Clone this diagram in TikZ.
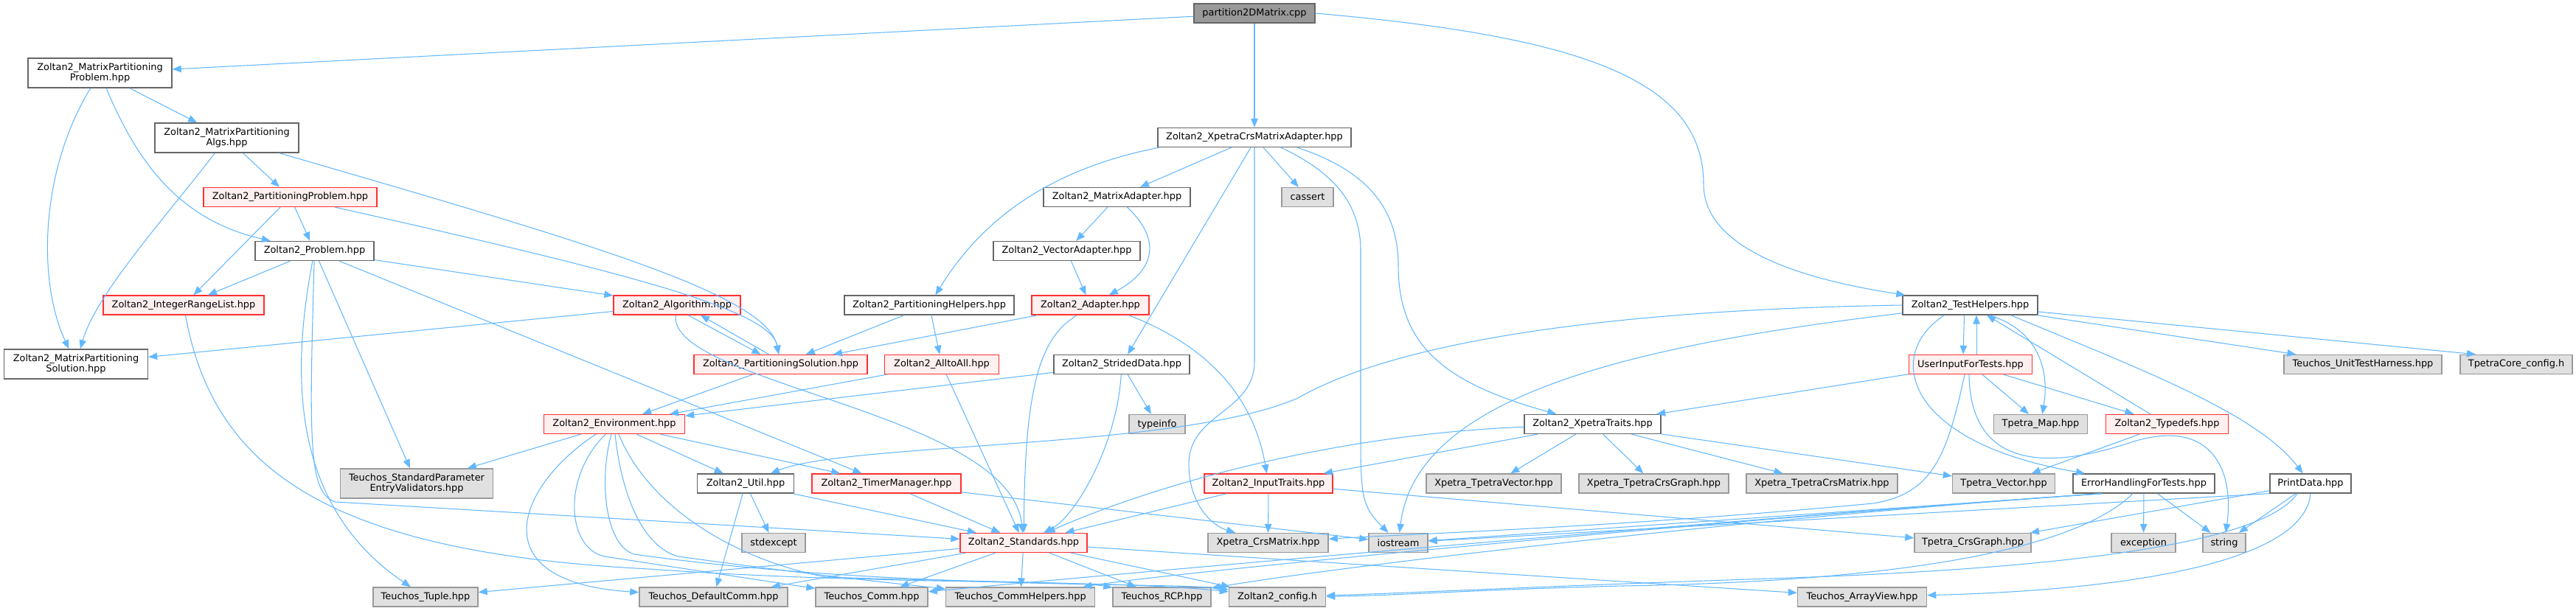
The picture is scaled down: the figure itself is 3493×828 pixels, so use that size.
\documentclass[tikz,border=0pt]{standalone}
\usepackage{fontspec}
\setmainfont{DejaVu Sans}
\usetikzlibrary{arrows.meta}
\definecolor{edgeblue}{HTML}{63B8FF}
\definecolor{wbd}{HTML}{666666}
\definecolor{gfill}{HTML}{E0E0E0}
\definecolor{gbd}{HTML}{999999}
\definecolor{rfill}{HTML}{FFF0F0}
\definecolor{rbd}{HTML}{FF3030}
\definecolor{rootfill}{HTML}{999999}
\definecolor{rootbd}{HTML}{666666}
\tikzset{
  edge/.style={draw=edgeblue, line width=1.05pt, -{Triangle[length=12pt,width=9.5pt]}},
  box/.style={rectangle, inner sep=0pt, minimum height=26pt, align=center,
              line width=1.4pt, font=\fontsize{12.9pt}{14.5pt}\selectfont},
  wbox/.style={box, draw=wbd, fill=white},
  gbox/.style={box, draw=gbd, fill=gfill},
  rbox/.style={box, draw=rbd, fill=rfill},
  rootbox/.style={box, draw=rootbd, fill=rootfill},
}
\begin{document}
\begin{tikzpicture}[x=1pt,y=-1pt]
\useasboundingbox[fill=white] (0,0) rectangle (3493,828);

% ---------- nodes ----------
\node[rootbox, minimum width=164pt] (cpp) at (1701,18) {partition2DMatrix.cpp};
\node[wbox, minimum width=195pt, minimum height=40pt] (mpp) at (135.5,99) {Zoltan2\_MatrixPartitioning\\Problem.hpp};
\node[wbox, minimum width=195pt, minimum height=40pt] (mpa) at (307.5,187) {Zoltan2\_MatrixPartitioning\\Algs.hpp};
\node[wbox, minimum width=262pt] (xcma) at (1701,186.5) {Zoltan2\_XpetraCrsMatrixAdapter.hpp};
\node[rbox, minimum width=235pt] (pprob) at (393.5,267.5) {Zoltan2\_PartitioningProblem.hpp};
\node[wbox, minimum width=199pt] (madp) at (1514.5,267.5) {Zoltan2\_MatrixAdapter.hpp};
\node[gbox, minimum width=70pt] (cassert) at (1773,267.5) {cassert};
\node[wbox, minimum width=161pt] (prob) at (426.5,340.5) {Zoltan2\_Problem.hpp};
\node[wbox, minimum width=199pt] (vadp) at (1446.5,340.5) {Zoltan2\_VectorAdapter.hpp};
\node[rbox, minimum width=218pt] (irl) at (249,414) {Zoltan2\_IntegerRangeList.hpp};
\node[rbox, minimum width=172pt] (alg) at (918,414) {Zoltan2\_Algorithm.hpp};
\node[wbox, minimum width=230pt] (phelp) at (1260,414) {Zoltan2\_PartitioningHelpers.hpp};
\node[rbox, minimum width=159pt] (adp) at (1478.5,414) {Zoltan2\_Adapter.hpp};
\node[wbox, minimum width=183pt] (th) at (2671.5,414) {Zoltan2\_TestHelpers.hpp};
\node[wbox, minimum width=195pt, minimum height=40pt] (mps) at (103,494) {Zoltan2\_MatrixPartitioning\\Solution.hpp};
\node[rbox, minimum width=235pt] (psol) at (1058.5,494.5) {Zoltan2\_PartitioningSolution.hpp};
\node[rbox, minimum width=155pt] (a2a) at (1277,494.5) {Zoltan2\_AlltoAll.hpp};
\node[wbox, minimum width=184pt] (sd) at (1521,494.5) {Zoltan2\_StridedData.hpp};
\node[rbox, minimum width=167pt] (uift) at (2672,494.5) {UserInputForTests.hpp};
\node[gbox, minimum width=214pt] (uth) at (3204,494.5) {Teuchos\_UnitTestHarness.hpp};
\node[gbox, minimum width=152pt] (tcc) at (3412,494.5) {TpetraCore\_config.h};
\node[rbox, minimum width=191pt] (env) at (833,575.5) {Zoltan2\_Environment.hpp};
\node[gbox, minimum width=76pt] (typeinfo) at (1569,575.5) {typeinfo};
\node[wbox, minimum width=185pt] (xt) at (2159.5,575.5) {Zoltan2\_XpetraTraits.hpp};
\node[gbox, minimum width=127pt] (tmap) at (2767,575.5) {Tpetra\_Map.hpp};
\node[rbox, minimum width=166pt] (tdef) at (2938.5,575.5) {Zoltan2\_Typedefs.hpp};
\node[gbox, minimum width=207pt, minimum height=40pt] (spev) at (565,656) {Teuchos\_StandardParameter\\EntryValidators.hpp};
\node[wbox, minimum width=131pt] (util) at (1011,656) {Zoltan2\_Util.hpp};
\node[rbox, minimum width=202pt] (tm) at (1202,656) {Zoltan2\_TimerManager.hpp};
\node[rbox, minimum width=174pt] (it) at (1720,656) {Zoltan2\_InputTraits.hpp};
\node[gbox, minimum width=183pt] (xtv) at (2025.5,656) {Xpetra\_TpetraVector.hpp};
\node[gbox, minimum width=203pt] (xtg) at (2242.5,656) {Xpetra\_TpetraCrsGraph.hpp};
\node[gbox, minimum width=205pt] (xtm) at (2470.5,656) {Xpetra\_TpetraCrsMatrix.hpp};
\node[gbox, minimum width=139pt] (tvec) at (2717,656) {Tpetra\_Vector.hpp};
\node[wbox, minimum width=192pt] (eh) at (2907,656) {ErrorHandlingForTests.hpp};
\node[wbox, minimum width=110pt] (pd) at (3133,656) {PrintData.hpp};
\node[gbox, minimum width=86pt] (stdexcept) at (1049,736.5) {stdexcept};
\node[rbox, minimum width=172pt] (std) at (1388,736.5) {Zoltan2\_Standards.hpp};
\node[gbox, minimum width=163pt] (xcm) at (1719.5,736.5) {Xpetra\_CrsMatrix.hpp};
\node[gbox, minimum width=80pt] (ios) at (1896,736.5) {iostream};
\node[gbox, minimum width=158pt] (tcg) at (2675,736.5) {Tpetra\_CrsGraph.hpp};
\node[gbox, minimum width=87pt] (exc) at (2906.5,736.5) {exception};
\node[gbox, minimum width=58pt] (str) at (3016,736.5) {string};
\node[gbox, minimum width=142pt] (tuple) at (577,810) {Teuchos\_Tuple.hpp};
\node[gbox, minimum width=201pt] (dcomm) at (967.5,810) {Teuchos\_DefaultComm.hpp};
\node[gbox, minimum width=152pt] (comm) at (1182,810) {Teuchos\_Comm.hpp};
\node[gbox, minimum width=202pt] (ch) at (1383.6,810) {Teuchos\_CommHelpers.hpp};
\node[gbox, minimum width=133pt] (rcp) at (1575.5,810) {Teuchos\_RCP.hpp};
\node[gbox, minimum width=131pt] (cfg) at (1732,810) {Zoltan2\_config.h};
\node[gbox, minimum width=175pt] (av) at (2525,810) {Teuchos\_ArrayView.hpp};

% ---------- edges ----------
% root
\draw[edge] (cpp) -- (mpp);
\draw[edge] (cpp) -- (xcma);
\draw[edge] (cpp.east) .. controls (2150,50) and (2310,110) .. (2310,250) .. controls (2310,340) and (2450,380) .. ([xshift=4pt]th.north west);
% MatrixPartitioningProblem
\draw[edge] (mpp) -- (mpa);
\draw[edge] (mpp) .. controls (55,230) and (50,380) .. (mps);
\draw[edge] (mpp) .. controls (190,230) and (250,300) .. (prob);
% MatrixPartitioningAlgs
\draw[edge] (mpa) -- (pprob);
\draw[edge] (mpa) .. controls (220,300) and (130,400) .. (mps);
\draw[edge] (mpa) .. controls (800,330) and (1040,400) .. (psol);
% PartitioningProblem
\draw[edge] (pprob) -- (prob);
\draw[edge] (pprob) -- (irl);
\draw[edge] (pprob) .. controls (850,370) and (1045,420) .. (psol);
% Problem
\draw[edge] (prob) -- (irl);
\draw[edge] (prob) -- (alg);
\draw[edge] (prob) -- (spev);
\draw[edge] (prob) .. controls (392,520) and (400,690) .. (tuple);
\draw[edge] (prob) -- (tm);
\draw[edge] (prob) .. controls (419,600) and (418,670) .. (455,681) -- (std);
% IntegerRangeList
\draw[edge] (irl) .. controls (290,640) and (450,750) .. (880,772) .. controls (1200,795) and (1500,785) .. (cfg);
% Algorithm / PartitioningSolution
\draw[edge] (alg) -- (mps);
\draw[edge] ([xshift=15pt]alg.south) -- ([xshift=-27pt]psol.north);
\draw[edge] ([xshift=-16pt]psol.north) -- ([xshift=32pt]alg.south);
\draw[edge] (alg) .. controls (905,520) and (1370,560) .. (std);
\draw[edge] (psol) -- (env);
% XpetraCrsMatrixAdapter
\draw[edge] ([xshift=2pt]xcma.south west) .. controls (1420,230) and (1330,300) .. (phelp);
\draw[edge] (xcma) -- (madp);
\draw[edge] ([xshift=-5pt]xcma.south) -- (sd);
\draw[edge] (xcma.south) -- (1701,490) .. controls (1701,560) and (1612,560) .. (1612,630) .. controls (1612,680) and (1640,712) .. (xcm);
\draw[edge] (xcma) -- (cassert);
\draw[edge] ([xshift=36pt]xcma.south) .. controls (1800,230) and (1845,270) .. (1845,340) -- (1845,600) .. controls (1845,680) and (1850,690) .. (ios);
\draw[edge] ([xshift=58pt]xcma.south) .. controls (1850,230) and (1896,280) .. (1896,360) .. controls (1896,470) and (1960,520) .. (xt);
% adapters
\draw[edge] (madp) -- (vadp);
\draw[edge] ([xshift=14pt]madp.south) .. controls (1580,330) and (1560,370) .. (adp);
\draw[edge] (vadp) -- (adp);
\draw[edge] (phelp) -- (psol);
\draw[edge] (phelp) -- (a2a);
\draw[edge] (adp) -- (psol);
\draw[edge] ([xshift=-18pt]adp.south) .. controls (1405,460) and (1390,540) .. (std);
\draw[edge] ([xshift=52pt]adp.south) .. controls (1640,470) and (1700,540) .. (it);
% AlltoAll / StridedData
\draw[edge] (a2a) -- (env);
\draw[edge] (a2a) -- (std);
\draw[edge] (sd) -- (env);
\draw[edge] (sd) .. controls (1515,600) and (1460,700) .. (std);
\draw[edge] (sd) -- (typeinfo);
% Environment
\draw[edge] (env) -- (spev);
\draw[edge] ([xshift=-25pt]env.south) .. controls (700,660) and (650,790) .. (dcomm);
\draw[edge] ([xshift=-12pt]env.south) .. controls (760,650) and (770,745) .. (820,755) .. controls (950,775) and (1050,790) .. (comm);
\draw[edge] ([xshift=-4pt]env.south) .. controls (812,650) and (820,740) .. (860,752) .. controls (1200,800) and (1600,790) .. (cfg);
\draw[edge] ([xshift=1pt]env.south) .. controls (845,690) and (880,745) .. (920,755) .. controls (1100,780) and (1200,790) .. (ch);
\draw[edge] ([xshift=6pt]env.south) .. controls (880,690) and (1000,760) .. (1120,783) .. controls (1350,790) and (1470,790) .. (rcp);
\draw[edge] (env) -- (util);
\draw[edge] (env) -- (tm);
% Util / TimerManager / InputTraits
\draw[edge] (util) -- (stdexcept);
\draw[edge] (util) -- (dcomm);
\draw[edge] (util) -- (std);
\draw[edge] (tm) -- (std);
\draw[edge] (tm) -- (ios);
\draw[edge] (it) -- (std);
\draw[edge] (it) -- (xcm);
\draw[edge] (it) -- (tcg);
% XpetraTraits
\draw[edge] (xt) .. controls (1800,590) and (1560,660) .. (std);
\draw[edge] (xt) -- (it);
\draw[edge] (xt) -- (xtv);
\draw[edge] (xt) -- (xtg);
\draw[edge] (xt) -- (xtm);
\draw[edge] (xt) -- (tvec);
% Standards
\draw[edge] (std) -- (tuple);
\draw[edge] (std) -- (dcomm);
\draw[edge] (std) -- (comm);
\draw[edge] (std) -- (ch);
\draw[edge] (std) -- (rcp);
\draw[edge] (std) -- (cfg);
\draw[edge] (std) -- (av);
% TestHelpers
\draw[edge] (th.west) .. controls (2200,420) and (1900,460) .. (1760,540) .. controls (1600,610) and (1150,600) .. (util);
\draw[edge] (th) .. controls (2200,470) and (1920,540) .. (ios);
\draw[edge] ([xshift=-8pt]th.south) -- ([xshift=-10pt]uift.north);
\draw[edge] ([xshift=8pt]uift.north) -- ([xshift=8.5pt]th.south);
\draw[edge] ([xshift=26pt]th.south) .. controls (2770,450) and (2778,510) .. (tmap);
\draw[edge] ([xshift=-35pt]th.south) .. controls (2555,480) and (2580,600) .. (eh);
\draw[edge] ([xshift=55pt]th.south) .. controls (2900,500) and (3060,560) .. (pd);
\draw[edge] (th) -- (uth);
\draw[edge] (th) -- ([xshift=-55pt]tcc.north);
\draw[edge] (tdef) -- (th);
% UserInputForTests
\draw[edge] (uift) -- (xt);
\draw[edge] (uift) -- (tmap);
\draw[edge] (uift) -- (tdef);
\draw[edge] ([xshift=-2pt]uift.south) .. controls (2672,650) and (2800,630) .. (2890,600) .. controls (3000,565) and (3030,640) .. (str);
\draw[edge] ([xshift=-8pt]uift.south) .. controls (2640,620) and (2620,670) .. (2540,683) .. controls (2200,715) and (1900,725) .. (xcm);
\draw[edge] (tdef) -- (tvec);
% ErrorHandlingForTests
\draw[edge] ([xshift=-57pt]eh.south) -- (ios);
\draw[edge] ([xshift=-57pt]eh.south) .. controls (2400,700) and (1500,780) .. (comm);
\draw[edge] ([xshift=-57pt]eh.south) .. controls (2400,700) and (1600,775) .. (ch);
\draw[edge] ([xshift=-57pt]eh.south) .. controls (2400,700) and (1800,770) .. (rcp);
\draw[edge] ([xshift=-15pt]eh.south) .. controls (2800,760) and (2500,790) .. (2200,795) .. controls (2000,800) and (1900,808) .. (cfg);
\draw[edge] (eh) -- (exc);
\draw[edge] (eh) -- (str);
% PrintData
\draw[edge] (pd) -- (tcg);
\draw[edge] (pd.south west) -- (ios);
\draw[edge] (pd) -- (str);
\draw[edge] ([xshift=-18pt]pd.south) .. controls (3060,750) and (2700,775) .. (2400,785) .. controls (2100,795) and (1900,805) .. (cfg);
\draw[edge] (pd.south) .. controls (3125,760) and (2900,800) .. (av);
\end{tikzpicture}
\end{document}
